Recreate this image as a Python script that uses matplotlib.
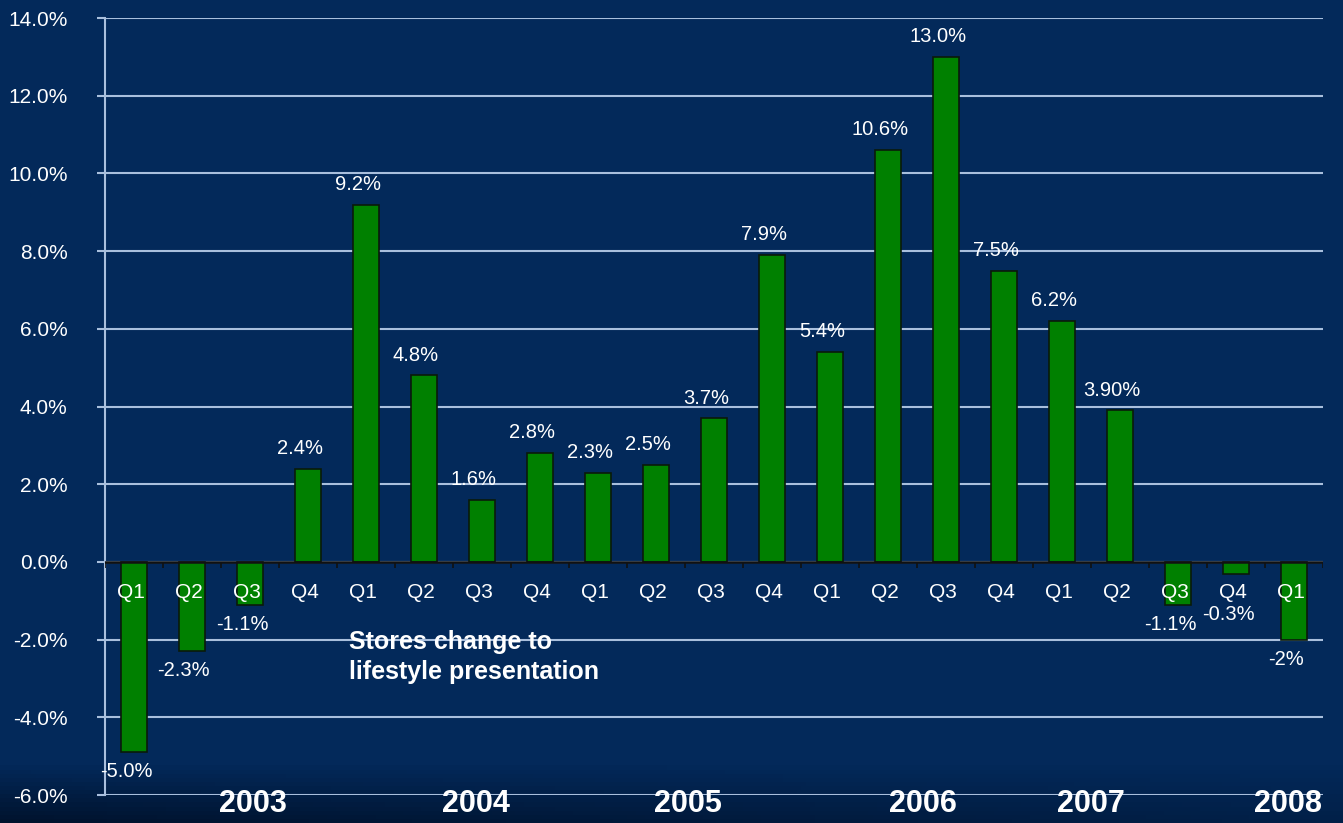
import numpy as np
import matplotlib.pyplot as plt
import matplotlib.transforms as mtransforms
from matplotlib.colors import LinearSegmentedColormap

plt.rcParams['font.family'] = ['Liberation Sans', 'DejaVu Sans']

# Data
quarters = ['Q1', 'Q2', 'Q3', 'Q4',
            'Q1', 'Q2', 'Q3', 'Q4',
            'Q1', 'Q2', 'Q3', 'Q4',
            'Q1', 'Q2', 'Q3', 'Q4',
            'Q1', 'Q2', 'Q3', 'Q4',
            'Q1']
values = [-4.9, -2.3, -1.1, 2.4,
          9.2, 4.8, 1.6, 2.8,
          2.3, 2.5, 3.7, 7.9,
          5.4, 10.6, 13.0, 7.5,
          6.2, 3.9, -1.1, -0.3,
          -2.0]
value_labels = ['-5.0%', '-2.3%', '-1.1%', '2.4%',
                '9.2%', '4.8%', '1.6%', '2.8%',
                '2.3%', '2.5%', '3.7%', '7.9%',
                '5.4%', '10.6%', '13.0%', '7.5%',
                '6.2%', '3.90%', '-1.1%', '-0.3%',
                '-2%']
years = ['2003', '2004', '2005', '2006', '2007', '2008']
year_pos = [2.05, 5.9, 9.55, 13.6, 16.5, 19.9]

bg = '#03295a'
grid_c = '#a9bfdd'
green = '#008000'

fig = plt.figure(figsize=(13.43, 8.23), dpi=100, facecolor=bg)

# darker shading along the bottom edge
bg_ax = fig.add_axes([0, 0, 1, 1], zorder=-1)
gy = np.linspace(0, 1, 200)[:, None]
gx = np.linspace(0, 1, 300)[None, :]
shade = np.clip((0.07 - gy) / 0.07, 0, 1) * (1 - 0.6 * gx)
cmap = LinearSegmentedColormap.from_list('bgshade', [bg, '#00132e'])
bg_ax.imshow(shade, cmap=cmap, origin='lower', aspect='auto', extent=[0, 1, 0, 1], vmin=0, vmax=1)
bg_ax.axis('off')

ax = fig.add_axes([0.0782, 0.034, 0.907, 0.944])
ax.patch.set_alpha(0)

x = np.arange(len(values))
ax.bar(x, values, width=0.45, color=green, edgecolor='#0a1a0a', linewidth=1.2, zorder=3)

ax.set_xlim(-0.5, len(values) - 0.5)
ax.set_ylim(-6, 14)
ax.set_yticks(np.arange(-6, 15, 2))
ax.set_yticklabels([f'{v:.1f}%' for v in np.arange(-6, 15, 2)])
ax.yaxis.grid(True, color=grid_c, linewidth=1.5, zorder=0)
ax.set_axisbelow(True)
ax.set_xticks([])
ax.tick_params(axis='y', colors=grid_c, labelcolor='white', labelsize=15,
               direction='out', length=6, width=1.5, pad=21)

for s in ['top', 'right', 'bottom']:
    ax.spines[s].set_visible(False)
ax.spines['left'].set_color(grid_c)
ax.spines['left'].set_linewidth(1.5)

# zero line with category boundary ticks
ax.axhline(0, color='#111111', linewidth=1.8, zorder=4)
ax.vlines(np.arange(len(values) + 1) - 0.5, -0.15, 0, color='#111111', linewidth=1.2, zorder=4)

# quarter labels
for i, q in enumerate(quarters):
    ax.text(i - 0.05, -0.78, q, color='white', fontsize=15, ha='center', va='center', zorder=5)

# value labels
for i, (v, lab) in enumerate(zip(values, value_labels)):
    if v >= 0:
        y = v + 0.52
    else:
        y = min(v, -0.85) - 0.5
    ax.text(i - 0.14, y, lab, color='white', fontsize=14.5, ha='center', va='center', zorder=5)

# year labels
trans = mtransforms.blended_transform_factory(ax.transData, ax.transAxes)
for yr, xp in zip(years, year_pos):
    ax.text(xp, -0.011, yr, transform=trans, color='white', fontsize=22,
            fontweight='bold', ha='center', va='center', zorder=6, clip_on=False)

ax.text(3.7, -1.75, 'Stores change to\nlifestyle presentation', color='white',
        fontsize=18, fontweight='bold', ha='left', va='top', linespacing=1.3, zorder=6)

fig.savefig('out.png', dpi=100, facecolor=bg)
